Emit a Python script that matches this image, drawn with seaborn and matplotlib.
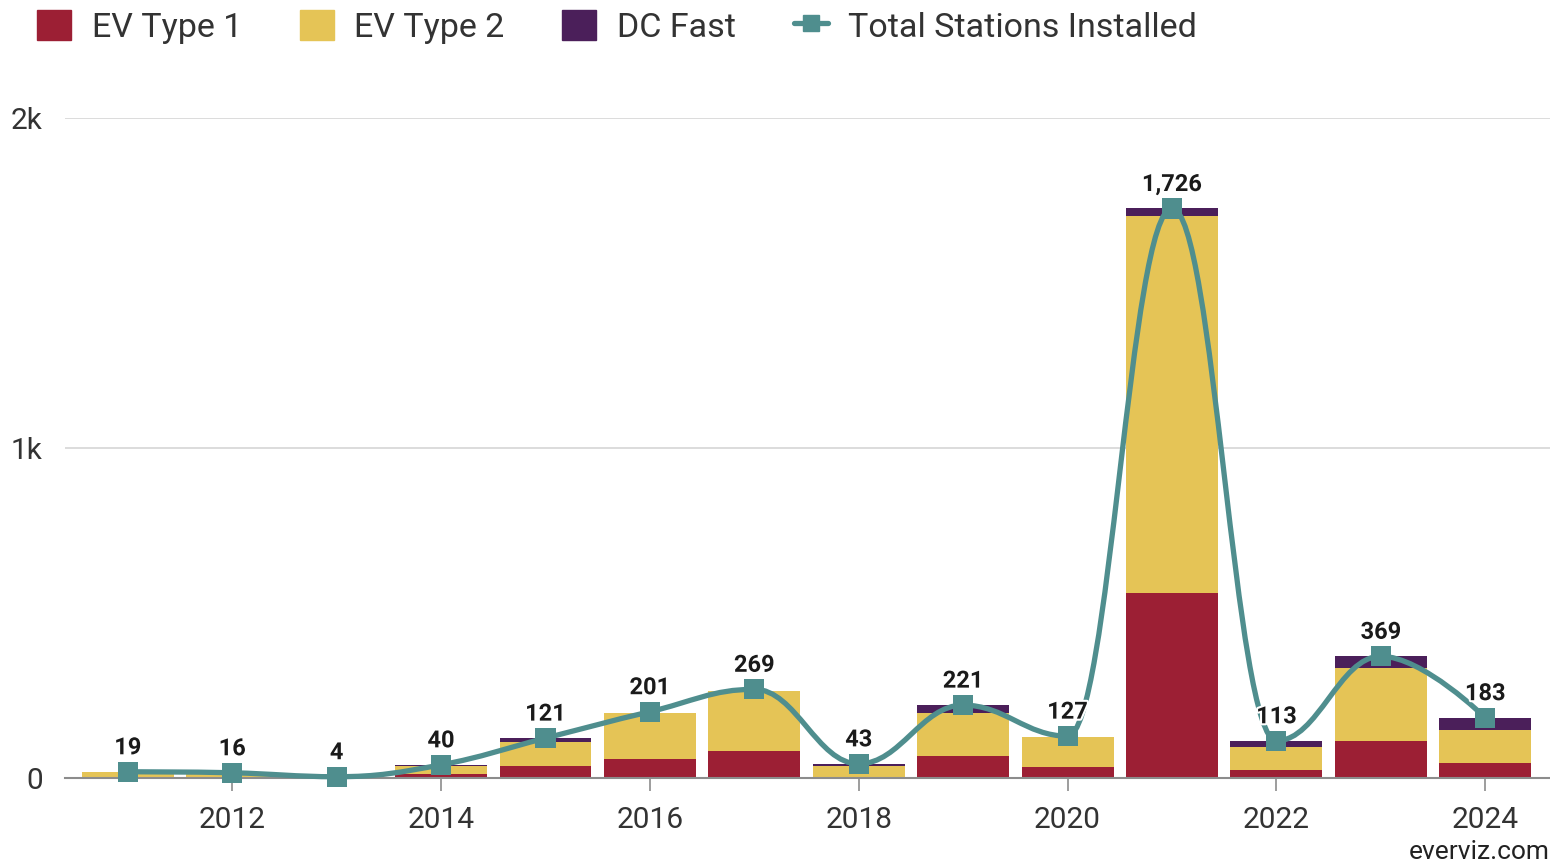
import matplotlib
matplotlib.use("Agg")
import matplotlib.pyplot as plt
import matplotlib.patheffects as pe
from matplotlib.path import Path
from matplotlib.patches import PathPatch, FancyBboxPatch
from matplotlib.lines import Line2D
import numpy as np
import pandas as pd
import seaborn as sns

# data
years = [2011, 2012, 2013, 2014, 2015, 2016, 2017, 2018, 2019, 2020, 2021,
         2022, 2023, 2024]
ev_type1 = [2, 2, 1, 12, 36, 59, 82, 2, 66, 32, 561, 25, 112, 47]
ev_type2 = [15, 12, 3, 26, 72, 138, 182, 33, 130, 92, 1142, 70, 220, 98]
dc_fast = [2, 2, 0, 2, 13, 1, 1, 8, 25, 1, 23, 18, 37, 38]
total_installed = [19, 16, 4, 40, 121, 201, 269, 43, 221, 127, 1726, 113,
                   369, 183]

RED = "#9c1f34"
YELLOW = "#e5c456"
PURPLE = "#4b1f5a"
TEAL = "#4f8e8e"


def spline_path(xs, ys, smoothing=1.5):
    """
    Bezier path through the points, same idea as a Highcharts spline.
    """
    n = len(xs)
    left = [(xs[i], ys[i]) for i in range(n)]
    right = [(xs[i], ys[i]) for i in range(n)]
    denom = smoothing + 1
    for i in range(1, n - 1):
        px, py = xs[i], ys[i]
        lx, ly = xs[i - 1], ys[i - 1]
        nx, ny = xs[i + 1], ys[i + 1]
        lcx = (smoothing * px + lx) / denom
        lcy = (smoothing * py + ly) / denom
        rcx = (smoothing * px + nx) / denom
        rcy = (smoothing * py + ny) / denom
        corr = ((rcy - lcy) * (rcx - px)) / (rcx - lcx) + py - rcy
        lcy += corr
        rcy += corr
        if lcy > max(ly, py):
            lcy = max(ly, py)
            rcy = 2 * py - lcy
        elif lcy < min(ly, py):
            lcy = min(ly, py)
            rcy = 2 * py - lcy
        if rcy > max(py, ny):
            rcy = max(py, ny)
            lcy = 2 * py - rcy
        elif rcy < min(py, ny):
            rcy = min(py, ny)
            lcy = 2 * py - rcy
        left[i] = (lcx, lcy)
        right[i] = (rcx, rcy)
    verts = [(xs[0], ys[0])]
    codes = [Path.MOVETO]
    for i in range(1, n):
        verts += [right[i - 1], left[i], (xs[i], ys[i])]
        codes += [Path.CURVE4] * 3
    return Path(verts, codes)


def main():
    sns.set_theme(style="white")
    plt.rcParams['font.family'] = ['Roboto', 'DejaVu Sans']

    df = pd.DataFrame({
        "year": [str(y) for y in years],
        "t1": ev_type1,
        "t2": ev_type2,
        "dc": dc_fast,
        "total": total_installed,
    })
    df["t12"] = df["t1"] + df["t2"]
    df["all"] = df["t12"] + df["dc"]

    fig = plt.figure(figsize=(15.5, 8.67), dpi=100)
    ax = fig.add_axes([0.042, 0.1026, 0.958, 0.7612])

    # stacked bars by overlaying cumulative sums
    sns.barplot(data=df, x="year", y="all", color=PURPLE, saturation=1,
                width=0.88, edgecolor="none", ax=ax, zorder=2)
    sns.barplot(data=df, x="year", y="t12", color=YELLOW, saturation=1,
                width=0.88, edgecolor="none", ax=ax, zorder=2)
    sns.barplot(data=df, x="year", y="t1", color=RED, saturation=1,
                width=0.88, edgecolor="none", ax=ax, zorder=2)

    # smooth total line with square markers
    xs = np.arange(len(years))
    path = spline_path(list(xs), total_installed)
    ax.add_patch(PathPatch(path, facecolor="none", edgecolor=TEAL, lw=3.8,
                           zorder=4, clip_on=False, capstyle="round"))
    sns.scatterplot(x=xs, y=total_installed, marker="s", s=210, color=TEAL,
                    edgecolor="none", ax=ax, zorder=5, clip_on=False)

    for x, v in zip(xs, total_installed):
        ax.annotate(f"{v:,}", (x, v), xytext=(0, 9), textcoords="offset points",
                    ha="center", va="bottom", fontsize=17, fontweight="bold",
                    color="#1a1a1a", zorder=6,
                    path_effects=[pe.withStroke(linewidth=3, foreground="white")])

    ax.set_xlim(-0.6, len(years) - 1 + 0.62)
    ax.set_ylim(0, 2000)
    ax.set_yticks([0, 1000, 2000])
    ax.set_yticklabels(["0", "1k", "2k"])
    ax.yaxis.grid(True, color="#d9d9d9", lw=1.3)
    ax.set_axisbelow(True)
    ax.set_xticks(xs[1::2])
    ax.set_xticklabels([str(y) for y in years[1::2]])
    ax.set_xlabel("")
    ax.set_ylabel("")
    for s in ["top", "right", "left"]:
        ax.spines[s].set_visible(False)
    ax.spines["bottom"].set_color("#8c8c8c")
    ax.spines["bottom"].set_linewidth(1.5)
    ax.tick_params(axis="x", length=9, width=1.2, color="#8c8c8c", pad=11,
                   labelsize=21.5, labelcolor="#333333", bottom=True)
    ax.tick_params(axis="y", length=0, pad=16, labelsize=21.5,
                   labelcolor="#333333")

    # legend along the top
    handles = [
        FancyBboxPatch((0, 0), 1, 1, boxstyle="round,pad=0.1", color=RED),
        FancyBboxPatch((0, 0), 1, 1, boxstyle="round,pad=0.1", color=YELLOW),
        FancyBboxPatch((0, 0), 1, 1, boxstyle="round,pad=0.1", color=PURPLE),
        Line2D([0], [0], color=TEAL, lw=3.8, marker="s", markersize=11),
    ]
    labels = ["EV Type 1", "EV Type 2", "DC Fast", "Total Stations Installed"]
    fig.legend(handles, labels, loc="center left",
               bbox_to_anchor=(0.024, 0.969), borderaxespad=0, borderpad=0,
               ncol=4, frameon=False, fontsize=24.5, handlelength=1.0,
               handleheight=1.0, handletextpad=0.6, columnspacing=1.7,
               labelcolor="#333333")

    fig.text(0.9995, 0.004, "everviz.com", ha="right", va="bottom",
             fontsize=19, color="#222222")

    fig.savefig("out.png", dpi=100, facecolor="white")
    plt.close(fig)


if __name__ == "__main__":
    main()
